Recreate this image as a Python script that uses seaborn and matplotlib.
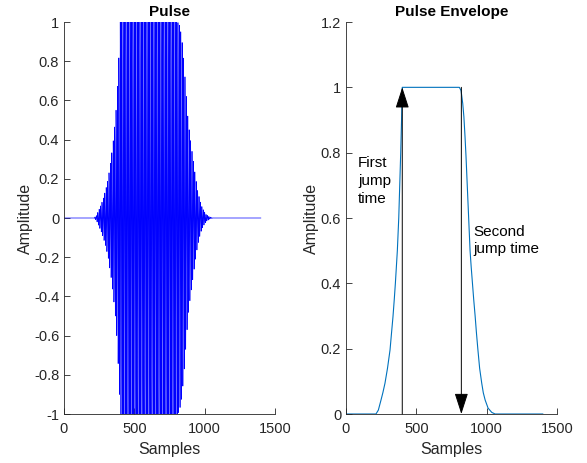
import numpy as np
import pandas as pd
import matplotlib
matplotlib.use("Agg")
import matplotlib.pyplot as plt
import seaborn as sns

# ---- data ----
env_samples = [0, 213, 230, 249, 262, 277, 295, 313, 323, 334, 343, 351, 358, 365, 370,
               375, 382, 389, 395, 400,
               806, 818, 830, 838, 846, 853, 860, 866, 872, 882, 890, 899, 908, 918,
               927, 937, 950, 965, 976, 989, 1010, 1036, 1060, 1400]
env_values = [0, 0, 0.012, 0.043, 0.065, 0.094, 0.14, 0.196, 0.245, 0.298, 0.35, 0.40, 0.45,
              0.50, 0.55, 0.60, 0.70, 0.80, 0.90, 1.0,
              1.0, 0.99, 0.95, 0.91, 0.85, 0.79, 0.72, 0.66, 0.60, 0.50, 0.45, 0.40, 0.35,
              0.30, 0.25, 0.20, 0.14, 0.094, 0.065, 0.043, 0.018, 0.005, 0, 0]
n_samples = 1400
carrier_cycles_per_sample = 0.1   # carrier frequency of the pulse
first_jump = 400
second_jump = 820
x_ticks = [0, 500, 1000, 1500]
left_yticks = [-1, -0.8, -0.6, -0.4, -0.2, 0, 0.2, 0.4, 0.6, 0.8, 1]
left_ylabels = ["-1", "-0.8", "-0.6", "-0.4", "-0.2", "0", "0.2", "0.4", "0.6", "0.8", "1"]
right_yticks = [0, 0.2, 0.4, 0.6, 0.8, 1, 1.2]
right_ylabels = ["0", "0.2", "0.4", "0.6", "0.8", "1", "1.2"]

sns.set_theme(style="white")
plt.rcParams['font.family'] = ['Liberation Sans', 'DejaVu Sans']

n = np.arange(n_samples + 1)
envelope_full = np.interp(n, env_samples, env_values)
pulse = envelope_full * np.cos(2 * np.pi * carrier_cycles_per_sample * n)
pulse_df = pd.DataFrame({"Samples": n, "Amplitude": pulse})
env_df = pd.DataFrame({"Samples": env_samples, "Amplitude": env_values})

W, H = 587, 463
fig = plt.figure(figsize=(W / 100, H / 100), dpi=100)
ax1 = fig.add_axes([64 / W, (H - 414) / H, 211 / W, 392 / H])
ax2 = fig.add_axes([346 / W, (H - 414) / H, 211 / W, 392 / H])

axc = (0.15, 0.15, 0.15)

sns.lineplot(data=pulse_df, x="Samples", y="Amplitude", ax=ax1, color=(0, 0, 1),
             linewidth=0.5, estimator=None, sort=False)
sns.lineplot(data=env_df, x="Samples", y="Amplitude", ax=ax2, color=(0, 0.447, 0.741),
             linewidth=0.8, estimator=None, sort=False)

for ax, yt, yl, ylim, title in [(ax1, left_yticks, left_ylabels, (-1, 1), "Pulse"),
                                (ax2, right_yticks, right_ylabels, (0, 1.2), "Pulse Envelope")]:
    ax.set_xlim(0, 1500)
    ax.set_ylim(*ylim)
    ax.set_xticks(x_ticks)
    ax.set_xticklabels([str(t) for t in x_ticks])
    ax.set_yticks(yt)
    ax.set_yticklabels(yl)
    ax.tick_params(axis="x", pad=6)
    ax.tick_params(direction="in", length=4, width=0.6, colors=axc, labelsize=10.5,
                   left=True, bottom=True)
    for s in ["top", "right"]:
        ax.spines[s].set_visible(False)
    for s in ["left", "bottom"]:
        ax.spines[s].set_color(axc)
        ax.spines[s].set_linewidth(0.6)
    ax.set_xlabel("Samples", fontsize=11.5, color=axc, labelpad=4)
    ax.set_ylabel("Amplitude", fontsize=11.5, color=axc, labelpad=1)
    ax.set_title(title, fontsize=11, fontweight="bold", color="black", pad=4)
    ax.grid(False)

arrow_kw = dict(arrowstyle="-|>,head_length=1.3,head_width=0.42", color="black",
                lw=0.7, mutation_scale=10, shrinkA=0, shrinkB=0)
ax2.annotate("", xy=(first_jump, 1), xytext=(first_jump, 0), arrowprops=arrow_kw)
ax2.annotate("", xy=(second_jump, 0), xytext=(second_jump, 1), arrowprops=arrow_kw)

ax2.text(85, 0.79, "First\njump\ntime", fontsize=11, va="top", ha="left",
         color="black", linespacing=1.35)
ax2.text(903, 0.58, "Second\njump time", fontsize=11, va="top", ha="left",
         color="black", linespacing=1.35)

fig.savefig("out.png", dpi=100)
